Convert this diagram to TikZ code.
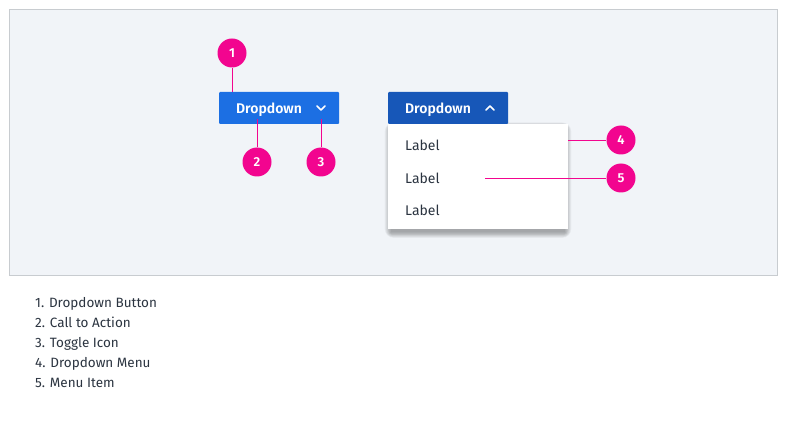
\documentclass[tikz,border=0pt]{standalone}
\usepackage{fontspec}
\setmainfont{Fira Sans}[BoldFont={Fira Sans SemiBold}]
\usetikzlibrary{calc}
\definecolor{panelbg}{HTML}{F1F4F8}
\definecolor{panelbd}{HTML}{C8CCD0}
\definecolor{btnA}{HTML}{1C6FE3}
\definecolor{btnB}{HTML}{1757B8}
\definecolor{mag}{HTML}{F2058F}
\definecolor{txt}{HTML}{2B3440}
\tikzset{
  callout/.style={circle, fill=mag, minimum size=29pt, inner sep=0pt, text=white, font=\fontsize{13}{15}\selectfont\bfseries},
  leader/.style={draw=mag, line width=0.8pt},
  btn/.style={rectangle, rounded corners=1pt, minimum width=120pt, minimum height=32pt, inner sep=0pt},
  btntext/.style={text=white, font=\fontsize{14}{16}\selectfont\bfseries, inner sep=0pt, anchor=base},
  chev/.style={draw=white, line width=1.6pt, line cap=round, line join=round},
  itemtext/.style={text=txt, font=\fontsize{14}{16}\selectfont, inner sep=0pt, anchor=base west},
  legend/.style={text=txt, font=\fontsize{13.5}{15}\selectfont, inner sep=0pt, anchor=base west}
}
\begin{document}
\begin{tikzpicture}[x=1pt,y=-1pt]
\useasboundingbox (0,0) rectangle (790,422);
\fill[white] (0,0) rectangle (790,422);
\draw[fill=panelbg, draw=panelbd, line width=0.8pt] (9.5,9.5) rectangle (777.5,275.5);
% button 1
\node[btn, fill=btnA] (b1) at (279,108) {};
\node[btntext] (b1t) at (269,113.5) {Dropdown};
\coordinate (c1) at (321,108);
\draw[chev] ($(c1)+(-4,-2)$) -- ($(c1)+(0,2)$) -- ($(c1)+(4,-2)$);
% menu shadow
\foreach \i in {0,...,9}{
  \fill[black, opacity=0.035, rounded corners=\i pt] (388-\i*0.7+3,124+3-\i*0.5) rectangle (568+\i*0.7-3,229+3.5+\i*0.6);
}
\node[rectangle, fill=white, minimum width=180pt, minimum height=105pt, inner sep=0pt, anchor=north west] (menu) at (388,124) {};
% button 2
\node[btn, fill=btnB] (b2) at (448,108) {};
\node[btntext] (b2t) at (438,113.5) {Dropdown};
\coordinate (c2) at (490,108);
\draw[chev] ($(c2)+(-4,2)$) -- ($(c2)+(0,-2)$) -- ($(c2)+(4,2)$);
\node[itemtext] (l1) at (405,150.5) {Label};
\node[itemtext] (l2) at (405,183.5) {Label};
\node[itemtext] (l3) at (405,215.5) {Label};
% callouts
\node[callout] (n1) at (232,53) {1};
\node[callout] (n2) at (257,162) {2};
\node[callout] (n3) at (321,162) {3};
\node[callout] (n4) at (621,140) {4};
\node[callout] (n5) at (621,178) {5};
\coordinate (a1) at (232,92);
\coordinate (a2) at (257,119);
\coordinate (a3) at (321,119);
\coordinate (a4) at (568,140);
\coordinate (a5) at (485,178);
\draw[leader] (n1) -- (a1);
\draw[leader] (n2) -- (a2);
\draw[leader] (n3) -- (a3);
\draw[leader] (n4) -- (a4);
\draw[leader] (n5) -- (a5);
% legend
\node[legend] (g1) at (35,307.5) {1. Dropdown Button};
\node[legend] (g2) at (35,327.5) {2. Call to Action};
\node[legend] (g3) at (35,347.5) {3. Toggle Icon};
\node[legend] (g4) at (35,367.5) {4. Dropdown Menu};
\node[legend] (g5) at (35,387.5) {5. Menu Item};
\end{tikzpicture}
\end{document}
